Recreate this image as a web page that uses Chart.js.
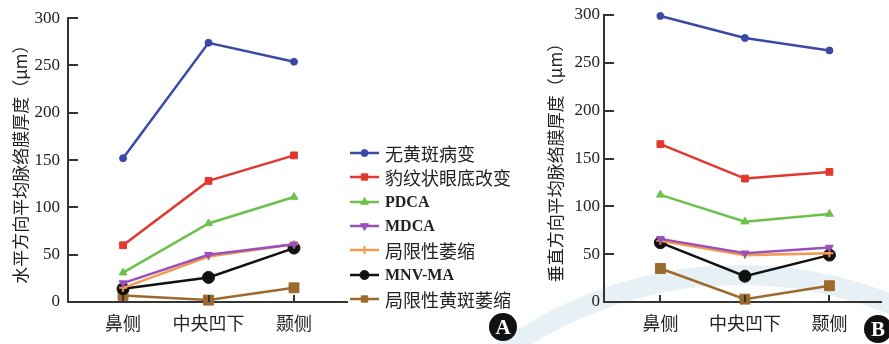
<!DOCTYPE html>
<html>
<head>
<meta charset="utf-8">
<script src="https://cdn.jsdelivr.net/npm/chart.js@4/dist/chart.umd.min.js"></script>
<style>
  html, body { margin: 0; padding: 0; background: #fff; }
  #wrap { position: relative; width: 889px; height: 344px; overflow: hidden; }
  #bg { position: absolute; left: 0; top: 0; }
  .box { position: absolute; top: 0; height: 344px; }
  #legend { position: absolute; left: 348px; top: 141px; }
  .item { position: absolute; left: 0; height: 24px; display: flex; align-items: center; white-space: nowrap; color: #222; }
  .item canvas { margin-right: 4px; }
  .cjk { font: 18px "Noto Sans CJK SC", sans-serif; }
  .lat { font: bold 16px "Liberation Serif", serif; }
  .badge { position: absolute; width: 28px; height: 28px; border-radius: 50%; background: #111; color: #fff;
           font: bold 21px "Liberation Serif", serif; text-align: center; line-height: 29px; }
</style>
</head>
<body>
<div id="wrap">
  <canvas id="bg" width="889" height="344"></canvas>
  <div class="box" style="left:0;width:355px"><canvas id="chartA"></canvas></div>
  <div class="box" style="left:545px;width:344px"><canvas id="chartB"></canvas></div>
  <div id="legend"></div>
  <div class="badge" style="left:489px;top:313px">A</div>
  <div class="badge" style="left:864px;top:315px">B</div>
</div>
<script>
// Measurement sites along the x axis
const categories = ['鼻侧', '中央凹下', '颞侧'];
const yTicks = [0, 50, 100, 150, 200, 250, 300];

const seriesNames = ['无黄斑病变', '豹纹状眼底改变', 'PDCA', 'MDCA', '局限性萎缩', 'MNV-MA', '局限性黄斑萎缩'];

// Horizontal mean choroidal thickness (μm)
const horizNormal   = [152, 274, 254];
const horizTessel   = [60, 128, 155];
const horizPDCA     = [31, 83, 111];
const horizMDCA     = [20, 50, 61];
const horizFocal    = [15, 48, 61];
const horizMNV      = [14, 26, 57];
const horizMacular  = [7, 2, 15];

// Vertical mean choroidal thickness (μm)
const vertNormal    = [299, 276, 263];
const vertTessel    = [165, 129, 136];
const vertPDCA      = [112, 84, 92];
const vertMDCA      = [66, 51, 57];
const vertFocal     = [64, 49, 51];
const vertMNV       = [62, 27, 49];
const vertMacular   = [35, 3, 17];

// Line / marker styling for each series
const styles = [
  { color: '#3b49a6', pointStyle: 'circle',   radius: 3.5, rotation: 0 },
  { color: '#e2372f', pointStyle: 'rect',     radius: 4.8, rotation: 0 },
  { color: '#6cc04c', pointStyle: 'triangle', radius: 4.5, rotation: 0 },
  { color: '#9a4fbb', pointStyle: 'triangle', radius: 4.5, rotation: 180 },
  { color: '#f39a4e', pointStyle: 'cross',    radius: 4,   rotation: 0 },
  { color: '#111111', pointStyle: 'circle',   radius: 6,   rotation: 0 },
  { color: '#9c6a2c', pointStyle: 'rect',     radius: 7,   rotation: 0 }
];

const AXIS = '#333';
const TEXT = '#222';

// Faint circular emblem in the background
(function () {
  const c = document.getElementById('bg').getContext('2d');
  c.strokeStyle = 'rgba(188, 214, 226, 0.36)';
  c.lineWidth = 20;
  c.beginPath();
  c.arc(740, 680, 405, 0, Math.PI * 2);
  c.stroke();
})();

// Short tick marks drawn inward from both axis lines
const innerTicks = {
  id: 'innerTicks',
  afterDraw(chart) {
    const { ctx, chartArea: ca, scales: { x, y } } = chart;
    ctx.save();
    ctx.strokeStyle = AXIS;
    ctx.lineWidth = 2;
    ctx.beginPath();
    y.ticks.forEach(t => {
      const py = Math.round(y.getPixelForValue(t.value));
      ctx.moveTo(ca.left, py);
      ctx.lineTo(ca.left + 10, py);
    });
    x.ticks.forEach(t => {
      const px = Math.round(x.getPixelForValue(t.value));
      ctx.moveTo(px, ca.bottom);
      ctx.lineTo(px, ca.bottom - 7);
    });
    ctx.stroke();
    ctx.restore();
  }
};

function buildDatasets(seriesValues) {
  return seriesValues.map((vals, i) => {
    const s = styles[i];
    return {
      label: seriesNames[i],
      data: vals.map((v, k) => ({ x: k, y: v })),
      borderColor: s.color,
      backgroundColor: s.color,
      borderWidth: 2.5,
      pointStyle: s.pointStyle,
      pointRadius: s.radius,
      pointRotation: s.rotation,
      pointBorderWidth: s.pointStyle === 'cross' ? 2 : 1,
      pointBorderColor: s.color,
      pointBackgroundColor: s.color,
      tension: 0,
      clip: false
    };
  });
}

function makeChart(id, seriesValues, cfg) {
  return new Chart(document.getElementById(id), {
    type: 'line',
    data: { datasets: buildDatasets(seriesValues) },
    options: {
      responsive: true,
      maintainAspectRatio: false,
      animation: false,
      layout: { padding: { top: cfg.top, right: cfg.right, left: 0, bottom: 0 } },
      plugins: { legend: { display: false }, tooltip: { enabled: false } },
      scales: {
        x: {
          type: 'linear',
          min: cfg.xMin,
          max: cfg.xMax,
          afterBuildTicks(s) { s.ticks = categories.map((_, i) => ({ value: i })); },
          afterFit(s) { s.height = 42; },
          ticks: {
            autoSkip: false,
            maxRotation: 0,
            padding: 10,
            color: TEXT,
            font: { family: '"Noto Sans CJK SC", sans-serif', size: 18 },
            callback: v => categories[v]
          },
          grid: { drawOnChartArea: false, drawTicks: false },
          border: { color: AXIS, width: 2 }
        },
        y: {
          min: 0,
          max: 300,
          afterBuildTicks(s) { s.ticks = yTicks.map(v => ({ value: v })); },
          afterFit(s) { s.width = cfg.yWidth; },
          ticks: {
            padding: cfg.tickPad,
            color: TEXT,
            font: { family: '"Liberation Serif", serif', size: 17 }
          },
          title: {
            display: true,
            text: cfg.title,
            color: TEXT,
            font: { family: '"Noto Sans CJK SC", sans-serif', size: 17 },
            padding: { top: cfg.titlePad, bottom: 0 }
          },
          grid: { drawOnChartArea: false, drawTicks: false },
          border: { color: AXIS, width: 2 }
        }
      }
    },
    plugins: [innerTicks]
  });
}

makeChart('chartA',
  [horizNormal, horizTessel, horizPDCA, horizMDCA, horizFocal, horizMNV, horizMacular],
  { title: '水平方向平均脉络膜厚度（μm）', top: 14, right: 3, xMin: -0.644, xMax: 2.62,
    yWidth: 68, tickPad: 8, titlePad: 10 });

makeChart('chartB',
  [vertNormal, vertTessel, vertPDCA, vertMDCA, vertFocal, vertMNV, vertMacular],
  { title: '垂直方向平均脉络膜厚度（μm）', top: 15, right: 0, xMin: -0.667, xMax: 2.61,
    yWidth: 59, tickPad: 4, titlePad: 0 });

// Shared legend between the two panels
(function () {
  const legend = document.getElementById('legend');
  seriesNames.forEach((name, i) => {
    const s = styles[i];
    const item = document.createElement('div');
    item.className = 'item';
    item.style.top = (i * 24.3) + 'px';
    const cv = document.createElement('canvas');
    cv.width = 33; cv.height = 24;
    const c = cv.getContext('2d');
    c.strokeStyle = s.color;
    c.fillStyle = s.color;
    c.lineWidth = 2.5;
    c.beginPath();
    c.moveTo(2, 12); c.lineTo(31, 12);
    c.stroke();
    c.lineWidth = s.pointStyle === 'cross' ? 2 : 1;
    Chart.helpers.drawPoint(c, {
      pointStyle: s.pointStyle,
      radius: Math.min(s.radius, 4.5),
      rotation: s.rotation,
      borderWidth: s.pointStyle === 'cross' ? 2 : 1
    }, 16.5, 12);
    item.appendChild(cv);
    const label = document.createElement('span');
    label.className = /^[\x00-\x7F]+$/.test(name) ? 'lat' : 'cjk';
    label.textContent = name;
    item.appendChild(label);
    legend.appendChild(item);
  });
})();
</script>
</body>
</html>
